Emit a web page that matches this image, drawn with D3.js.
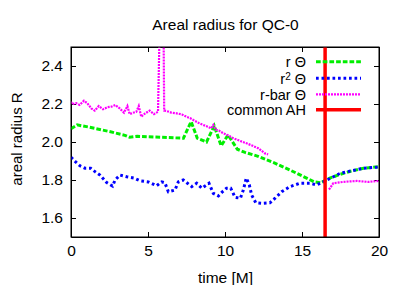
<!DOCTYPE html>
<html>
<head>
<meta charset="utf-8">
<script src="https://cdn.jsdelivr.net/npm/d3@7"></script>
<style>
  body { margin: 0; background: #fff; }
  svg { display: block; font-family: "Liberation Sans", Arial, sans-serif; }
  .axis text { font-size: 15.5px; fill: #000; }
  .axis line, .axis path { stroke: #000; stroke-width: 1; }
</style>
</head>
<body>
<svg width="407" height="285"></svg>
<script>
// r Theta
const rTime = [0, 0.4, 1.2, 2.5, 3.5, 3.8, 4.3, 5.8, 7.3, 7.8, 8.2, 8.8, 9.3, 9.75, 10.2, 10.8, 11.3, 12.1, 13.2, 14.2, 15.0, 15.8, 16.2, 16.8, 17.5, 18.1, 19.0, 20];
const rVal = [2.07, 2.09, 2.078, 2.055, 2.035, 2.025, 2.03, 2.025, 2.02, 2.107, 2.02, 2.0, 2.085, 1.98, 2.037, 1.962, 1.945, 1.926, 1.89, 1.853, 1.822, 1.79, 1.785, 1.81, 1.83, 1.845, 1.862, 1.87];

// r^2 Theta
const r2Time = [0, 0.3, 0.58, 0.91, 1.28, 1.56, 1.88, 2.32, 2.7, 2.86, 3.18, 3.62, 4.1, 4.48, 5.02, 5.56, 5.89, 6.1, 6.32, 6.75, 6.97, 7.29, 7.84, 8.16, 8.49, 8.96, 9.24, 9.57, 9.83, 10.1, 10.37, 10.65, 11.0, 11.19, 11.38, 11.58, 11.73, 12.0, 12.4, 12.92, 13.25, 13.68, 14.22, 14.87, 15.52, 15.95, 16.38, 17.47, 18.98, 20];
const r2Val = [1.92, 1.895, 1.875, 1.862, 1.862, 1.844, 1.826, 1.786, 1.768, 1.8, 1.826, 1.817, 1.81, 1.796, 1.79, 1.77, 1.79, 1.785, 1.738, 1.747, 1.79, 1.8, 1.765, 1.783, 1.757, 1.783, 1.73, 1.716, 1.738, 1.757, 1.757, 1.709, 1.704, 1.747, 1.81, 1.774, 1.721, 1.68, 1.677, 1.68, 1.704, 1.738, 1.765, 1.783, 1.783, 1.774, 1.79, 1.835, 1.862, 1.868];

// r-bar Theta (null = no data)
const rbarTime = [0, 0.06, 0.34, 0.56, 0.84, 1.06, 1.32, 1.54, 1.8, 2.08, 2.36, 2.62, 2.88, 3.16, 3.44, 3.66, 3.81, 4.03, 4.24, 4.4, 4.56, 4.82, 5.11, 5.39, 5.65, 5.78, 6.0, 6.05, 6.21, 6.5, 6.86, 7.2, 7.51, 7.75, 7.94, 8.3, 8.59, 8.9, 9.1, 9.24, 9.4, 9.6, 9.89, 10.2, 10.54, 11.0, 11.4, 11.8, 12.16, 12.6, 12.8, 14.5, 16.75, 16.82, 17.03, 17.68, 18.55, 19.3, 20];
const rbarVal = [2.212, 2.2, 2.204, 2.195, 2.217, 2.204, 2.177, 2.165, 2.189, 2.172, 2.183, 2.186, 2.195, 2.177, 2.154, 2.189, 2.147, 2.154, 2.159, 2.189, 2.133, 2.151, 2.165, 2.147, 2.159, 2.7, 2.7, 2.165, 2.163, 2.155, 2.151, 2.145, 2.133, 2.125, 2.116, 2.1, 2.09, 2.08, 2.072, 2.09, 2.065, 2.06, 2.046, 2.035, 2.02, 2.005, 1.993, 1.98, 1.967, 1.94, 1.935, null, 1.75, 1.757, 1.783, 1.79, 1.795, 1.79, 1.795];

const commonAH = 16.5;

const xTicks = [0, 5, 10, 15, 20];
const yTicks = [1.6, 1.8, 2.0, 2.2, 2.4];

const pLeft = 71, pRight = 379, pTop = 47, pBottom = 237;
const svg = d3.select("svg");

const x = d3.scaleLinear().domain([0, 20]).range([pLeft, pRight]);
const y = d3.scaleLinear().domain([1.5, 2.5]).range([pBottom, pTop]);

svg.append("text")
  .attr("x", 225.5).attr("y", 29.8)
  .attr("text-anchor", "middle")
  .style("font-size", "15.5px")
  .text("Areal radius for QC-0");

// axes
svg.append("g").attr("class", "axis")
  .attr("transform", `translate(0,${pBottom})`)
  .call(d3.axisBottom(x).tickValues(xTicks).tickFormat(d3.format("d")).tickSize(-5).tickSizeOuter(0).tickPadding(8));
svg.append("g").attr("class", "axis")
  .attr("transform", `translate(0,${pTop})`)
  .call(d3.axisTop(x).tickValues(xTicks).tickFormat("").tickSize(-5).tickSizeOuter(0));
svg.append("g").attr("class", "axis")
  .attr("transform", `translate(${pLeft},0)`)
  .call(d3.axisLeft(y).tickValues(yTicks).tickFormat(d3.format(".1f")).tickSize(-5).tickSizeOuter(0).tickPadding(8));
svg.append("g").attr("class", "axis")
  .attr("transform", `translate(${pRight},0)`)
  .call(d3.axisRight(y).tickValues(yTicks).tickFormat("").tickSize(-5).tickSizeOuter(0));

svg.append("text")
  .attr("x", 225.5).attr("y", 282.5)
  .attr("text-anchor", "middle")
  .style("font-size", "15.5px")
  .text("time [M]");
svg.append("text")
  .attr("transform", "translate(22,139) rotate(-90)")
  .attr("text-anchor", "middle")
  .style("font-size", "15px")
  .text("areal radius R");

svg.append("clipPath").attr("id", "clip")
  .append("rect").attr("x", pLeft).attr("y", pTop).attr("width", pRight - pLeft).attr("height", pBottom - pTop);

const plot = svg.append("g").attr("clip-path", "url(#clip)");
const line = d3.line()
  .defined(d => d[1] != null)
  .x(d => x(d[0])).y(d => y(d[1]));

const series = [
  { name: "r Θ", t: rTime, v: rVal, color: "#00ee00", width: 3, dash: "4.7,2" },
  { name: "r2 Θ", t: r2Time, v: r2Val, color: "#0000ff", width: 3, dash: "2.7,2.8" },
  { name: "r-bar Θ", t: rbarTime, v: rbarVal, color: "#ff00ff", width: 2.2, dash: "2,1" }
];

// legend rows
const legY = [61.8, 78.3, 94.3, 109.8];
const legend = svg.append("g").style("font-size", "14.5px");

series.forEach((s, i) => {
  plot.append("path")
    .datum(s.t.map((t, j) => [t, s.v[j]]))
    .attr("d", line)
    .attr("fill", "none")
    .attr("stroke", s.color)
    .attr("stroke-width", s.width)
    .attr("stroke-dasharray", s.dash);

  const txt = legend.append("text")
    .attr("x", 306).attr("y", legY[i] + 5.3)
    .attr("text-anchor", "end");
  if (i === 1) {
    txt.append("tspan").text("r");
    txt.append("tspan").attr("dy", -4).style("font-size", "10px").text("2");
    txt.append("tspan").attr("dy", 4).text(" Θ");
  } else {
    txt.text(s.name);
  }
  legend.append("line")
    .attr("x1", 316).attr("x2", 361)
    .attr("y1", legY[i]).attr("y2", legY[i])
    .attr("stroke", s.color)
    .attr("stroke-width", s.width)
    .attr("stroke-dasharray", s.dash);
});

legend.append("text")
  .attr("x", 306).attr("y", legY[3] + 5.3)
  .attr("text-anchor", "end")
  .text("common AH");
legend.append("line")
  .attr("x1", 316).attr("x2", 361)
  .attr("y1", legY[3]).attr("y2", legY[3])
  .attr("stroke", "#ff0000").attr("stroke-width", 3.5);

plot.append("line")
  .attr("x1", x(commonAH)).attr("x2", x(commonAH))
  .attr("y1", y(1.5)).attr("y2", y(2.5))
  .attr("stroke", "#ff0000").attr("stroke-width", 3.5);

// border
svg.append("rect")
  .attr("x", pLeft).attr("y", pTop)
  .attr("width", pRight - pLeft).attr("height", pBottom - pTop)
  .attr("fill", "none").attr("stroke", "#000").attr("stroke-width", 1);
</script>
</body>
</html>
